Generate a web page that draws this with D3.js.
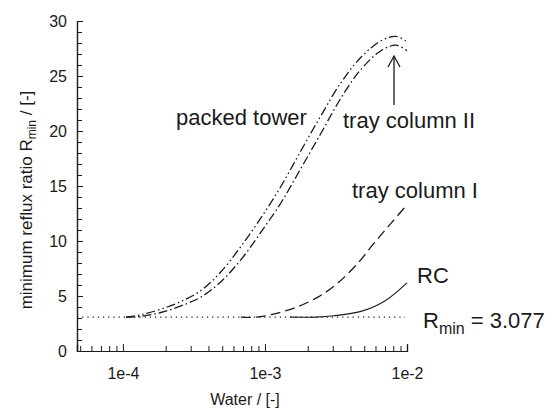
<!DOCTYPE html>
<html>
<head>
<meta charset="utf-8">
<script src="https://cdn.jsdelivr.net/npm/d3@7"></script>
<style>
  body { margin: 0; background: #fff; }
  text { font-family: "Liberation Sans", Arial, sans-serif; fill: #1a1a1a; }
</style>
</head>
<body>
<div id="container"></div>
<script>
/* DATA */
var waterGrid = [1.05e-4, 1.34e-4, 1.85e-4, 2.56e-4, 3.54e-4, 4.9e-4, 6.77e-4, 9.37e-4, 1.3e-3, 1.79e-3, 2.48e-3, 3.43e-3, 4.74e-3, 6.56e-3, 8.37e-3, 1.0e-2]
var packedTower = [3.08, 3.3, 3.8, 4.5, 5.5, 7.2, 9.5, 12.1, 15.0, 18.2, 21.4, 24.4, 26.7, 28.2, 28.6, 28.1]
var trayColumnII = [3.077, 3.15, 3.5, 4.1, 4.9, 6.3, 8.3, 10.8, 13.5, 16.6, 19.8, 23.0, 25.6, 27.3, 27.8, 27.3]

var trayIWater = [6.77e-4, 8.65e-4, 1.10e-3, 1.60e-3, 2.36e-3, 3.27e-3, 4.52e-3, 5.86e-3, 7.71e-3, 1.0e-2]
var trayColumnI = [3.077, 3.077, 3.3, 3.9, 4.9, 6.2, 8.0, 9.8, 11.6, 13.3]

var rcWater = [1.5e-3, 2.29e-3, 3.06e-3, 4.74e-3, 6.89e-3, 1.0e-2]
var rcValues = [3.077, 3.077, 3.2, 3.6, 4.5, 6.2]

var rmin = 3.077
var rminWater = [4.75e-5, 9.7e-3]

var xMajorTicks = [1e-4, 1e-3, 1e-2]
var xTickLabels = ['1e-4', '1e-3', '1e-2']
var yMajorTicks = [0, 5, 10, 15, 20, 25, 30]

/* SET UP */
var width = 549, height = 415
var svg = d3.select('#container').append('svg')
    .attr('width', width).attr('height', height)

var x = d3.scaleLog().domain([4.75e-5, 1e-2]).range([77, 407])
var y = d3.scaleLinear().domain([0, 30]).range([351, 21])
var ink = '#1a1a1a'
var font = '"Liberation Sans", Arial, sans-serif'

// minor ticks on the log axis: 2..9 of every decade
var xMinor = []
;[1e-5, 1e-4, 1e-3].forEach(function(dec) {
    for (var k = 2; k <= 9; k++) {
        var v = k * dec
        if (v >= x.domain()[0] && v < x.domain()[1]) xMinor.push(v)
    }
})
var yMinor = d3.range(0, 31, 1).filter(function(v) { return v % 5 != 0 })

/* AXES */
// separate groups so the minor-tick axis isn't overwritten by the major one
svg.append('g').attr('transform', 'translate(0,' + y(0) + ')')
    .call(d3.axisBottom(x).tickValues(xMinor).tickSize(-5).tickFormat(''))
var gx = svg.append('g').attr('transform', 'translate(0,' + y(0) + ')')
    .call(d3.axisBottom(x).tickValues(xMajorTicks).tickSize(-7)
    .tickFormat(function(d, i) { return xTickLabels[i] }))
gx.selectAll('text').attr('y', 17).style('font-size', '16px').style('font-family', font).attr('fill', ink)

svg.append('g').attr('transform', 'translate(' + x.range()[0] + ',0)')
    .call(d3.axisLeft(y).tickValues(yMinor).tickSize(-5).tickFormat(''))
var gy = svg.append('g').attr('transform', 'translate(' + x.range()[0] + ',0)')
    .call(d3.axisLeft(y).tickValues(yMajorTicks).tickSize(-6).tickFormat(d3.format('d')))
gy.selectAll('text').attr('x', -10).style('font-size', '16px').style('font-family', font).attr('fill', ink)

svg.selectAll('.domain').attr('stroke', ink).attr('stroke-width', 1.2)
svg.selectAll('.tick line').attr('stroke', ink).attr('stroke-width', 1)

// axis titles
svg.append('text')
    .attr('x', 245).attr('y', 405)
    .attr('text-anchor', 'middle')
    .style('font-size', '16px')
    .text('Water / [-]')

var ylab = svg.append('text')
    .attr('transform', 'translate(32,200) rotate(-90)')
    .attr('text-anchor', 'middle')
    .style('font-size', '17px')
ylab.append('tspan').text('minimum reflux ratio R')
ylab.append('tspan').attr('dy', 4).style('font-size', '12px').text('min')
ylab.append('tspan').attr('dy', -4).text(' / [-]')

/* CURVES */
var line = d3.line()
    .x(function(d) { return x(d[0]) })
    .y(function(d) { return y(d[1]) })
    .curve(d3.curveCatmullRom.alpha(0.5))

function drawCurve(xs, ys, dash, w) {
    svg.append('path')
        .datum(d3.zip(xs, ys))
        .attr('d', line)
        .attr('fill', 'none')
        .attr('stroke', ink)
        .attr('stroke-width', w)
        .attr('stroke-dasharray', dash)
}

// Rmin reference
drawCurve(rminWater, [rmin, rmin], '1.2,4', 1.2)
drawCurve(waterGrid, packedTower, '9,3,1.5,3,1.5,3', 1.3)
drawCurve(waterGrid, trayColumnII, '9,3,1.5,3', 1.3)
drawCurve(trayIWater, trayColumnI, '10,5', 1.3)
drawCurve(rcWater, rcValues, null, 1.1)

/* ANNOTATIONS */
function label(tx, ty, str) {
    return svg.append('text').attr('x', tx).attr('y', ty)
        .style('font-size', '22px').text(str)
}
label(176, 125, 'packed tower')
label(343, 128, 'tray column II')
label(352, 198, 'tray column I')
label(417, 283, 'RC')
var rl = label(423, 328, 'R')
rl.append('tspan').attr('dy', 6).style('font-size', '16px').text('min')
rl.append('tspan').attr('dy', -6).text(' = ' + rmin)

// arrow to tray column II
var ax = 394, atip = 56, abot = 105
svg.append('line').attr('x1', ax).attr('x2', ax).attr('y1', abot).attr('y2', atip)
    .attr('stroke', ink).attr('stroke-width', 1.3)
svg.append('path')
    .attr('d', 'M' + (ax - 6) + ',' + (atip + 11) + 'L' + ax + ',' + atip + 'L' + (ax + 6) + ',' + (atip + 11))
    .attr('fill', 'none').attr('stroke', ink).attr('stroke-width', 1.3)
</script>
</body>
</html>
